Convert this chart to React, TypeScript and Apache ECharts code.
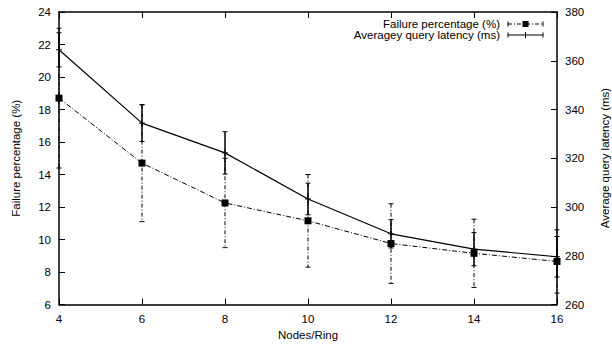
import React, { useEffect, useRef } from "react";
import * as echarts from "echarts";

const nodes = [4, 6, 8, 10, 12, 14, 16];
const failurePct = [18.7, 14.7, 12.25, 11.15, 9.75, 9.15, 8.65];
const failureErr = [4.3, 3.6, 2.75, 2.85, 2.45, 2.1, 1.95];
const latencyMs = [364.5, 334.4, 322.2, 303.3, 289.0, 282.7, 279.6];
const latencyErr = [7.0, 7.5, 8.7, 6.5, 5.8, 6.8, 8.3];

const FONT = "'Liberation Sans', Arial, sans-serif";
const FS = 11.5;

export default function App() {
  const ref = useRef<HTMLDivElement>(null);
  useEffect(() => {
    if (!ref.current) return;
    const chart = echarts.init(ref.current, null, { renderer: "svg" });

    const failData = nodes.map((n, i) => [n, failurePct[i], failureErr[i]]);
    const latData = nodes.map((n, i) => [n, latencyMs[i], latencyErr[i]]);

    const errRender = (dash: number[] | null, width: number, plus: boolean) =>
      (params: any, api: any) => {
        const x = api.value(0);
        const y = api.value(1);
        const e = api.value(2);
        const t = api.coord([x, y + e]);
        const b = api.coord([x, y - e]);
        const c = api.coord([x, y]);
        const cap = 2.5;
        const children: any[] = [
          {
            type: "line",
            shape: { x1: t[0], y1: t[1], x2: b[0], y2: b[1] },
            style: { stroke: "#000", lineWidth: width, lineDash: dash || undefined },
          },
          {
            type: "line",
            shape: { x1: t[0] - cap, y1: t[1], x2: t[0] + cap, y2: t[1] },
            style: { stroke: "#000", lineWidth: 1 },
          },
          {
            type: "line",
            shape: { x1: b[0] - cap, y1: b[1], x2: b[0] + cap, y2: b[1] },
            style: { stroke: "#000", lineWidth: 1 },
          },
        ];
        if (plus) {
          children.push(
            { type: "line", shape: { x1: c[0] - 3, y1: c[1], x2: c[0] + 3, y2: c[1] }, style: { stroke: "#000", lineWidth: 1 } },
            { type: "line", shape: { x1: c[0], y1: c[1] - 3, x2: c[0], y2: c[1] + 3 }, style: { stroke: "#000", lineWidth: 1 } }
          );
        }
        return { type: "group", children };
      };

    const axisText = { color: "#000", fontFamily: FONT, fontSize: FS };
    const lineSty = { color: "#000", width: 1.5 };

    const lx = 508, rx = 543, mx = 525.5;
    const legend: any[] = [
      { type: "text", x: 500, y: 24, style: { text: "Failure percentage (%)", align: "right", verticalAlign: "middle", fill: "#000", font: `${FS}px ${FONT}` } },
      { type: "line", shape: { x1: lx, y1: 24, x2: rx, y2: 24 }, style: { stroke: "#000", lineWidth: 1, lineDash: [4, 2, 1, 2] } },
      { type: "line", shape: { x1: lx, y1: 21.5, x2: lx, y2: 26.5 }, style: { stroke: "#000", lineWidth: 1 } },
      { type: "line", shape: { x1: rx, y1: 21.5, x2: rx, y2: 26.5 }, style: { stroke: "#000", lineWidth: 1 } },
      { type: "rect", shape: { x: mx - 3, y: 21, width: 6, height: 6 }, style: { fill: "#000" } },
      { type: "text", x: 500, y: 35, style: { text: "Averagey query latency (ms)", align: "right", verticalAlign: "middle", fill: "#000", font: `${FS}px ${FONT}` } },
      { type: "line", shape: { x1: lx, y1: 35, x2: rx, y2: 35 }, style: { stroke: "#000", lineWidth: 1.2 } },
      { type: "line", shape: { x1: lx, y1: 32.5, x2: lx, y2: 37.5 }, style: { stroke: "#000", lineWidth: 1 } },
      { type: "line", shape: { x1: rx, y1: 32.5, x2: rx, y2: 37.5 }, style: { stroke: "#000", lineWidth: 1 } },
      { type: "line", shape: { x1: mx, y1: 32, x2: mx, y2: 38 }, style: { stroke: "#000", lineWidth: 1 } },
      {
        type: "text",
        x: 605,
        y: 158,
        rotation: Math.PI / 2,
        style: { text: "Average query latency (ms)", align: "center", verticalAlign: "middle", fill: "#000", font: `${FS}px ${FONT}` },
      },
    ];

    chart.setOption({
      animation: false,
      backgroundColor: "#fff",
      grid: { left: 59, right: 55, top: 12, bottom: 40.5, outerBoundsMode: "none", containLabel: false },
      xAxis: [
        {
          type: "value",
          position: "bottom",
          min: 4,
          max: 16,
          interval: 2,
          name: "Nodes/Ring",
          nameLocation: "middle",
          nameGap: 24,
          nameTextStyle: axisText,
          axisLine: { lineStyle: lineSty },
          axisTick: { inside: true, length: 6, lineStyle: { color: "#000", width: 1 } },
          axisLabel: { ...axisText, margin: 8 },
          splitLine: { show: false },
        },
        {
          type: "value",
          position: "top",
          min: 4,
          max: 16,
          interval: 2,
          axisLine: { lineStyle: lineSty },
          axisTick: { inside: true, length: 6, lineStyle: { color: "#000", width: 1 } },
          axisLabel: { show: false },
          splitLine: { show: false },
        },
      ],
      yAxis: [
        {
          type: "value",
          position: "left",
          min: 6,
          max: 24,
          interval: 2,
          name: "Failure percentage (%)",
          nameLocation: "middle",
          nameGap: 37,
          nameRotate: 90,
          nameTextStyle: axisText,
          axisLine: { show: true, lineStyle: lineSty },
          axisTick: { show: true, inside: true, length: 6, lineStyle: { color: "#000", width: 1 } },
          axisLabel: { ...axisText, margin: 8 },
          splitLine: { show: false },
        },
        {
          type: "value",
          position: "right",
          min: 260,
          max: 380,
          interval: 20,
          axisLine: { show: true, lineStyle: lineSty },
          axisTick: { show: true, inside: true, length: 6, lineStyle: { color: "#000", width: 1 } },
          axisLabel: { ...axisText, margin: 8 },
          splitLine: { show: false },
        },
      ],
      graphic: legend,
      series: [
        {
          type: "custom",
          name: "failErr",
          xAxisIndex: 0,
          yAxisIndex: 0,
          data: failData,
          encode: { x: 0, y: 1 },
          clip: false,
          silent: true,
          renderItem: errRender([4, 2, 1, 2], 1, false),
          z: 2,
        },
        {
          type: "custom",
          name: "latErr",
          xAxisIndex: 0,
          yAxisIndex: 1,
          data: latData,
          encode: { x: 0, y: 1 },
          clip: false,
          silent: true,
          renderItem: errRender(null, 1.5, true),
          z: 2,
        },
        {
          type: "line",
          name: "Failure percentage (%)",
          xAxisIndex: 0,
          yAxisIndex: 0,
          data: nodes.map((n, i) => [n, failurePct[i]]),
          symbol: "rect",
          symbolSize: 7,
          itemStyle: { color: "#000" },
          lineStyle: { color: "#000", width: 1, type: [5, 2, 1, 2] },
          clip: false,
          z: 3,
        },
        {
          type: "line",
          name: "Averagey query latency (ms)",
          xAxisIndex: 0,
          yAxisIndex: 1,
          data: nodes.map((n, i) => [n, latencyMs[i]]),
          showSymbol: false,
          symbol: "none",
          lineStyle: { color: "#000", width: 1.2 },
          clip: false,
          z: 3,
        },
      ],
    });
    return () => chart.dispose();
  }, []);
  return (
    <div
      ref={ref}
      style={{ position: "fixed", left: 0, top: 0, width: 612, height: 345, background: "#fff" }}
    />
  );
}
